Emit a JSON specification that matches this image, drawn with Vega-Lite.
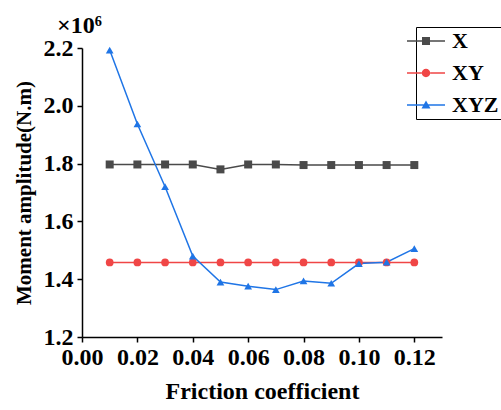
{
  "$schema": "https://vega.github.io/schema/vega-lite/v6.json",
  "width": 360,
  "height": 289,
  "autosize": "none",
  "padding": {"left": 82, "top": 48, "right": 59, "bottom": 73},
  "background": "white",
  "title": {
    "text": "×10⁶",
    "anchor": "start",
    "frame": "group",
    "dx": -25,
    "dy": 13,
    "offset": 2,
    "font": "Liberation Serif",
    "fontSize": 24,
    "fontWeight": "bold",
    "color": "black"
  },
  "config": {
    "view": {"stroke": null},
    "axis": {
      "grid": false,
      "domainColor": "black",
      "domainWidth": 1.5,
      "tickColor": "black",
      "tickWidth": 1.5,
      "tickSize": 5,
      "labelFont": "Liberation Serif",
      "labelFontWeight": "bold",
      "labelFontSize": 24,
      "labelColor": "black",
      "labelOverlap": false,
      "labelBound": false,
      "labelFlush": false,
      "titleFont": "Liberation Serif",
      "titleFontWeight": "bold",
      "titleColor": "black"
    }
  },
  "data": {
    "values": [
      {"mu": 0.01, "value": 1.797, "series": "X"},
      {"mu": 0.02, "value": 1.797, "series": "X"},
      {"mu": 0.03, "value": 1.797, "series": "X"},
      {"mu": 0.04, "value": 1.797, "series": "X"},
      {"mu": 0.05, "value": 1.780, "series": "X"},
      {"mu": 0.06, "value": 1.797, "series": "X"},
      {"mu": 0.07, "value": 1.797, "series": "X"},
      {"mu": 0.08, "value": 1.795, "series": "X"},
      {"mu": 0.09, "value": 1.795, "series": "X"},
      {"mu": 0.10, "value": 1.795, "series": "X"},
      {"mu": 0.11, "value": 1.795, "series": "X"},
      {"mu": 0.12, "value": 1.795, "series": "X"},
      {"mu": 0.01, "value": 1.458, "series": "XY"},
      {"mu": 0.02, "value": 1.458, "series": "XY"},
      {"mu": 0.03, "value": 1.458, "series": "XY"},
      {"mu": 0.04, "value": 1.458, "series": "XY"},
      {"mu": 0.05, "value": 1.458, "series": "XY"},
      {"mu": 0.06, "value": 1.458, "series": "XY"},
      {"mu": 0.07, "value": 1.458, "series": "XY"},
      {"mu": 0.08, "value": 1.458, "series": "XY"},
      {"mu": 0.09, "value": 1.458, "series": "XY"},
      {"mu": 0.10, "value": 1.458, "series": "XY"},
      {"mu": 0.11, "value": 1.458, "series": "XY"},
      {"mu": 0.12, "value": 1.458, "series": "XY"},
      {"mu": 0.01, "value": 2.193, "series": "XYZ"},
      {"mu": 0.02, "value": 1.937, "series": "XYZ"},
      {"mu": 0.03, "value": 1.720, "series": "XYZ"},
      {"mu": 0.04, "value": 1.480, "series": "XYZ"},
      {"mu": 0.05, "value": 1.390, "series": "XYZ"},
      {"mu": 0.06, "value": 1.376, "series": "XYZ"},
      {"mu": 0.07, "value": 1.364, "series": "XYZ"},
      {"mu": 0.08, "value": 1.394, "series": "XYZ"},
      {"mu": 0.09, "value": 1.386, "series": "XYZ"},
      {"mu": 0.10, "value": 1.454, "series": "XYZ"},
      {"mu": 0.11, "value": 1.459, "series": "XYZ"},
      {"mu": 0.12, "value": 1.506, "series": "XYZ"}
    ]
  },
  "encoding": {
    "x": {
      "field": "mu",
      "type": "quantitative",
      "scale": {"domain": [0, 0.13], "nice": false, "zero": false},
      "axis": {
        "values": [0, 0.02, 0.04, 0.06, 0.08, 0.1, 0.12],
        "format": ".2f",
        "labelPadding": 3,
        "title": "Friction coefficient",
        "titleFontSize": 24,
        "titlePadding": 10
      }
    },
    "y": {
      "field": "value",
      "type": "quantitative",
      "scale": {"domain": [1.2, 2.2], "nice": false, "zero": false},
      "axis": {
        "values": [1.2, 1.4, 1.6, 1.8, 2.0, 2.2],
        "format": ".1f",
        "labelPadding": 4,
        "title": "Moment amplitude(N.m)",
        "titleFontSize": 21,
        "titlePadding": 9
      }
    },
    "color": {
      "field": "series",
      "type": "nominal",
      "scale": {"domain": ["X", "XY", "XYZ"], "range": ["#4a4a4a", "#f04646", "#1f75e6"]},
      "legend": {
        "title": null,
        "orient": "none",
        "legendX": 334,
        "legendY": -21,
        "padding": 3,
        "strokeColor": "black",
        "fillColor": "white",
        "labelFont": "Liberation Serif",
        "labelFontWeight": "bold",
        "labelFontSize": 22,
        "labelColor": "black",
        "labelOffset": 11,
        "symbolSize": 400,
        "symbolOpacity": 1,
        "symbolStrokeWidth": 0,
        "rowPadding": 10
      }
    }
  },
  "layer": [
    {
      "mark": {"type": "point", "filled": true, "opacity": 0},
      "encoding": {
        "shape": {
          "field": "series",
          "type": "nominal",
          "scale": {
            "domain": ["X", "XY", "XYZ"],
            "range": [
              "M-2.3,-0.075H1.5V0.075H-2.3ZM-0.8,-0.4H0V0.4H-0.8Z",
              "M-2.3,-0.075H-0.82V0.075H-2.3ZM0.02,-0.075H1.5V0.075H0.02ZM0.02,0A0.42,0.42 0 1,1 -0.82,0A0.42,0.42 0 1,1 0.02,0Z",
              "M-2.3,-0.075H1.5V0.075H-2.3ZM-0.4,-0.45L0.05,0.35H-0.85Z"
            ]
          },
          "legend": null
        }
      }
    },
    {
      "mark": {"type": "line", "strokeWidth": 1.5}
    },
    {
      "transform": [{"filter": "datum.series === 'X'"}],
      "mark": {"type": "point", "shape": "square", "filled": true, "opacity": 1, "size": 64}
    },
    {
      "transform": [{"filter": "datum.series === 'XY'"}],
      "mark": {"type": "point", "shape": "circle", "filled": true, "opacity": 1, "size": 60}
    },
    {
      "transform": [{"filter": "datum.series === 'XYZ'"}],
      "mark": {"type": "point", "shape": "triangle-up", "filled": true, "opacity": 1, "size": 60}
    }
  ]
}
